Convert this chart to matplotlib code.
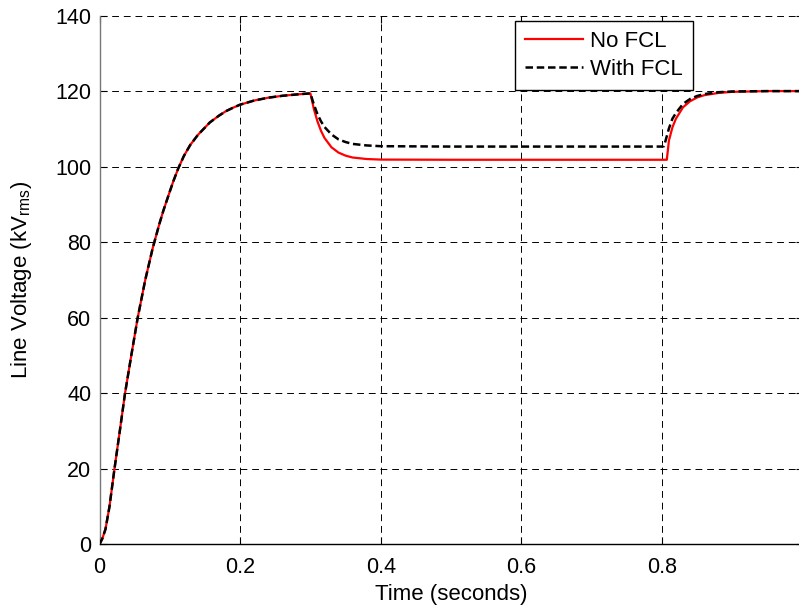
import matplotlib
matplotlib.use("Agg")
import matplotlib.pyplot as plt

plt.rcParams['font.family'] = ['Liberation Sans', 'DejaVu Sans']
plt.rcParams['mathtext.fontset'] = 'custom'
plt.rcParams['mathtext.rm'] = 'Liberation Sans'

# Time samples (s) and line voltage (kV rms)
t_rise = [0.0, 0.004, 0.0085, 0.0142, 0.0213, 0.029, 0.0363, 0.045, 0.0543, 0.065,
          0.0757, 0.085, 0.091, 0.1, 0.105, 0.112, 0.12, 0.129, 0.14, 0.157,
          0.17, 0.18, 0.19, 0.2, 0.22, 0.24, 0.26, 0.28, 0.300]
v_rise = [0.0, 1.5, 4.0, 10.0, 20.0, 30.2, 40.0, 49.8, 60.0, 70.0,
          78.5, 84.8, 88.5, 93.5, 96.2, 99.6, 102.9, 105.8, 108.5, 111.8,
          113.6, 114.8, 115.7, 116.5, 117.6, 118.35, 118.85, 119.2, 119.5]

t_no_fcl_rest = [0.305, 0.31, 0.315, 0.32, 0.33, 0.34, 0.35, 0.36, 0.38, 0.40, 0.50,
                 0.60, 0.70, 0.80, 0.807, 0.810, 0.815, 0.82, 0.83, 0.84, 0.85, 0.86,
                 0.88, 0.90, 0.95, 1.00]
v_no_fcl_rest = [115.3, 112.1, 109.6, 107.7, 105.2, 103.8, 103.0, 102.5, 102.1, 101.95, 101.9,
                 101.9, 101.9, 101.9, 101.9, 107.0, 110.5, 112.8, 115.8, 117.4, 118.4, 119.0,
                 119.6, 119.9, 120.1, 120.1]

t_with_fcl_rest = [0.305, 0.31, 0.315, 0.32, 0.33, 0.34, 0.35, 0.36, 0.38, 0.40, 0.50,
                   0.60, 0.70, 0.80, 0.803, 0.806, 0.81, 0.815, 0.82, 0.83, 0.84, 0.85,
                   0.86, 0.88, 0.90, 0.95, 1.00]
v_with_fcl_rest = [116.5, 114.0, 112.1, 110.6, 108.6, 107.3, 106.6, 106.1, 105.7, 105.5, 105.4,
                   105.4, 105.4, 105.4, 105.5, 107.5, 110.2, 112.8, 114.3, 116.7, 118.0, 118.8,
                   119.3, 119.8, 120.0, 120.1, 120.1]

x_ticks = [0, 0.2, 0.4, 0.6, 0.8]
x_tick_labels = ['0', '0.2', '0.4', '0.6', '0.8']
y_ticks = [0, 20, 40, 60, 80, 100, 120, 140]
series_labels = ["No FCL", "With FCL"]

t_no = t_rise + t_no_fcl_rest
v_no = v_rise + v_no_fcl_rest
t_with = t_rise + t_with_fcl_rest
v_with = v_rise + v_with_fcl_rest

W, H = 799, 605
fig = plt.figure(figsize=(W / 100, H / 100), dpi=100)
ax = fig.add_axes([99.5 / W, 60.7 / H, 703 / W, 528.3 / H])

ax.plot(t_no, v_no, color='#ff0000', lw=1.6, label=series_labels[0], zorder=3)
ax.plot(t_with, v_with, color='black', lw=1.8, ls=(0, (3.0, 1.5)), label=series_labels[1], zorder=4)

ax.set_xlim(0, 1.0)
ax.set_ylim(0, 140)
ax.set_xticks(x_ticks)
ax.set_xticklabels(x_tick_labels)
ax.set_yticks(y_ticks)

ax.grid(True, color='black', lw=0.7, ls=(0, (7, 5)))
ax.tick_params(direction='in', length=5, width=0.8, top=True, right=True,
               labelsize=15.5, colors='black')
ax.tick_params(axis='x', pad=9.5)
ax.tick_params(axis='y', pad=6)
ax.spines['top'].set_visible(False)
ax.spines['right'].set_visible(False)
ax.spines['bottom'].set_color('black')
ax.spines['bottom'].set_linewidth(1.0)
ax.spines['left'].set_color('#777777')
ax.spines['left'].set_linewidth(1.0)

ax.set_xlabel('Time (seconds)', fontsize=16, labelpad=4)
ax.set_ylabel(r'Line Voltage (kV$_{\mathregular{rms}}$)', fontsize=16, labelpad=15)

leg = ax.legend(loc='upper left', bbox_to_anchor=(515 / W, 1 - 21 / H),
                bbox_transform=fig.transFigure, borderaxespad=0,
                fancybox=False, framealpha=1, edgecolor='black', fontsize=16,
                handlelength=2.6, handletextpad=0.33, labelspacing=0.3,
                borderpad=0.45)
leg.get_frame().set_linewidth(1.0)

fig.savefig('out.png', dpi=100)
